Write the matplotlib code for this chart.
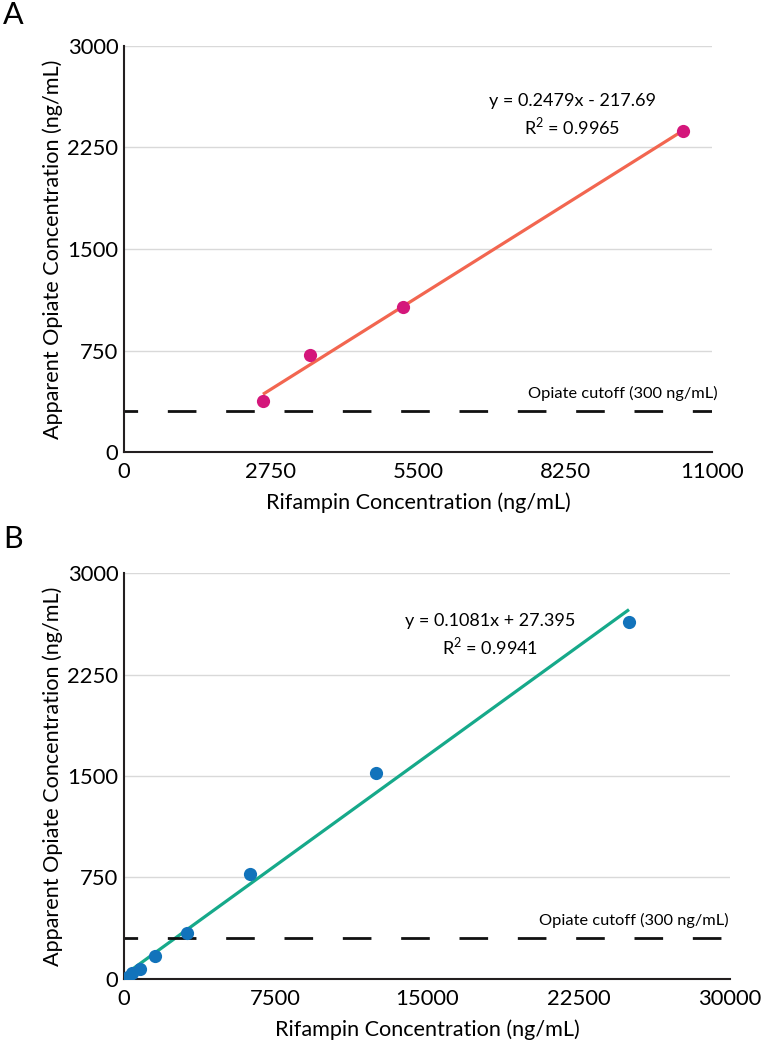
import matplotlib.pyplot as plt
import numpy as np

plt.rcParams['font.family'] = ['Lato', 'DejaVu Sans']
plt.rcParams['mathtext.fontset'] = 'custom'
plt.rcParams['mathtext.rm'] = 'Lato'

# panel A data
rif_a = [2600, 3480, 5220, 10450]
opi_a = [377, 717, 1071, 2372]
slope_a, icpt_a = 0.2479, -217.69

# panel B data
rif_b = [195, 390, 780, 1560, 3125, 6250, 12500, 25000]
opi_b = [15, 44, 74, 170, 340, 776, 1522, 2638]
slope_b, icpt_b = 0.1081, 27.395

cutoff = 300
yticks = [0, 750, 1500, 2250, 3000]
xticks_a = [0, 2750, 5500, 8250, 11000]
xticks_b = [0, 7500, 15000, 22500, 30000]

fig = plt.figure(figsize=(7.62, 10.44), dpi=100)


def panel(rect, xs, ys, slope, icpt, xmax, xticks, mcol, lcol, eq, r2, eqpos, cutx, letter, letpos):
    ax = fig.add_axes(rect)
    ax.set_xlim(0, xmax)
    ax.set_ylim(0, 3000)
    ax.set_yticks(yticks)
    ax.set_xticks(xticks)
    ax.yaxis.grid(True, color='#d9d9d9', lw=1)
    ax.set_axisbelow(True)
    for s in ['top', 'right']:
        ax.spines[s].set_visible(False)
    for s in ['left', 'bottom']:
        ax.spines[s].set_linewidth(1.5)
        ax.spines[s].set_color('#231f20')
    ax.tick_params(length=0, labelsize=15.8, pad=7)
    ax.tick_params(axis='y', pad=4)
    fx = np.array([xs[0], xs[-1]])
    ax.plot(fx, slope * fx + icpt, color=lcol, lw=2.3, zorder=2, solid_capstyle='butt')
    ax.plot(xs, ys, 'o', color=mcol, ms=9.5, mec='none', zorder=3)
    ax.plot([0, xmax], [cutoff, cutoff], color='#111111', lw=2,
            linestyle=(5.4, (10.3, 10.7)))
    ax.text(cutx, cutoff + 80, 'Opiate cutoff (300 ng/mL)', transform=ax.get_yaxis_transform(),
            ha='right', va='bottom', fontsize=11.8)
    ax.text(eqpos[0], eqpos[1], eq + '\n' + r2, transform=ax.transAxes, ha='center', va='center',
            fontsize=13, linespacing=1.3)
    ax.set_xlabel('Rifampin Concentration (ng/mL)', fontsize=15.6, labelpad=8)
    ax.set_ylabel('Apparent Opiate Concentration (ng/mL)', fontsize=15.6, labelpad=3)
    fig.text(letpos[0], letpos[1], letter, fontsize=22, ha='left', va='top')
    return ax


panel([0.1627, 0.567, 0.7717, 0.389], rif_a, opi_a, slope_a, icpt_a, 11000, xticks_a,
      '#d4177b', '#f26650', 'y = 0.2479x - 217.69', 'R$^2$ = 0.9965', (0.762, 0.830), 1.01,
      'A', (0.004, 0.999))
panel([0.1627, 0.0623, 0.7953, 0.3888], rif_b, opi_b, slope_b, icpt_b, 30000, xticks_b,
      '#1273bb', '#16a98a', 'y = 0.1081x + 27.395', 'R$^2$ = 0.9941', (0.604, 0.847), 0.997,
      'B', (0.004, 0.497))

fig.savefig('out.png', dpi=100)
